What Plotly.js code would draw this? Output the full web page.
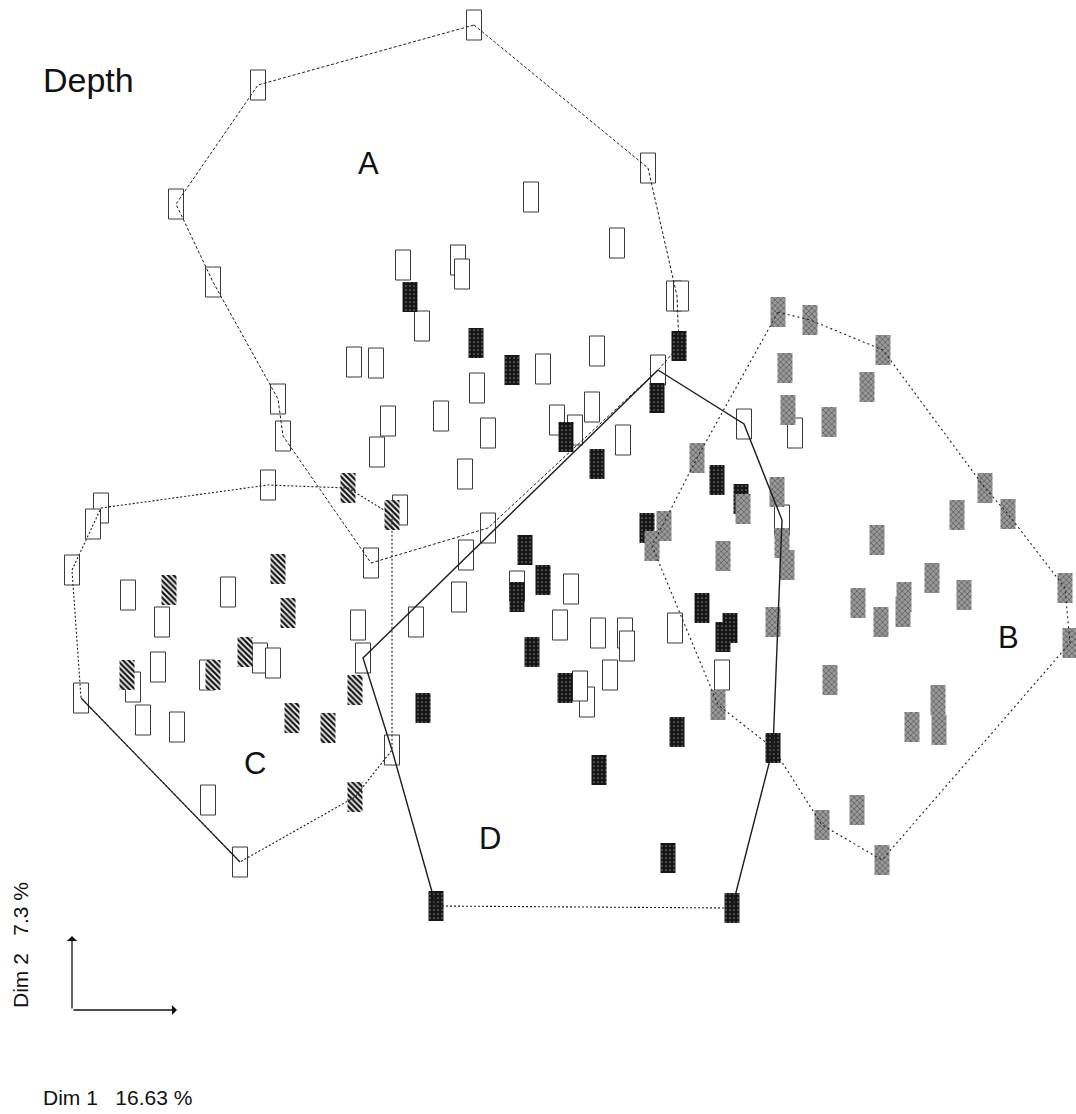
<!DOCTYPE html>
<html>
<head>
<meta charset="utf-8">
<script src="https://cdn.plot.ly/plotly-3.0.1.min.js"></script>
<style>
  html, body { margin: 0; padding: 0; background: #ffffff; }
  #chart { width: 1076px; height: 1114px; }
</style>
</head>
<body>
<div id="chart"></div>
<script>
// Ordination of samples on Dim 1 / Dim 2, coded by depth class.
// Coordinates are in plot units (Dim 1 to the right, Dim 2 downward on screen).

// Open (unfilled) samples
const openX = [474, 258, 176, 213, 648, 531, 617, 674, 681, 403, 458, 462, 422, 543, 597, 354, 376, 477, 388, 441,
               278, 283, 488, 377, 465, 557, 575, 592, 658, 623, 744, 795,
               268, 101, 93, 72, 128, 162, 228, 371, 358, 363, 133, 158, 207, 260, 273, 81, 143, 177, 392, 208, 240, 400,
               488, 466, 517, 571, 459, 416, 560, 598, 625, 627, 675, 610, 587, 580, 722, 782];
const openY = [25, 85, 204, 282, 168, 197, 243, 296, 296, 265, 260, 274, 326, 369, 351, 362, 363, 388, 421, 416,
               399, 436, 433, 452, 474, 420, 430, 407, 370, 440, 424, 433,
               485, 508, 524, 570, 595, 622, 592, 563, 625, 658, 687, 667, 675, 658, 663, 698, 720, 727, 750, 800, 862, 510,
               528, 555, 586, 589, 597, 622, 625, 633, 633, 646, 628, 675, 702, 686, 675, 520];

// Black (dense stipple) samples
const blackX = [410, 476, 512, 679, 657, 566, 597, 717, 741, 647, 525, 543, 517, 702, 723, 730, 532, 565, 423, 677, 773, 599, 668, 436, 732];
const blackY = [297, 343, 370, 346, 398, 437, 464, 480, 499, 528, 550, 580, 597, 608, 637, 628, 652, 688, 708, 732, 748, 770, 858, 906, 908];

// Hatched samples
const hatchX = [348, 392, 169, 278, 288, 355, 127, 213, 245, 292, 328, 355];
const hatchY = [488, 515, 590, 569, 613, 690, 675, 675, 652, 718, 728, 797];

// Grey (light stipple) samples
const greyX = [778, 810, 883, 785, 867, 788, 829, 697, 743, 664, 652, 777, 782, 787, 723, 985, 1008, 957, 877, 858,
               881, 904, 903, 932, 964, 1065, 1070, 830, 773, 718, 938, 939, 912, 857, 822, 882];
const greyY = [312, 320, 350, 368, 387, 410, 422, 458, 509, 526, 546, 492, 543, 565, 556, 488, 514, 515, 540, 603,
               622, 597, 612, 578, 595, 588, 643, 680, 622, 705, 700, 730, 727, 810, 825, 860];

// Group envelopes (closed outlines through the outermost samples)
const hullAX = [474, 648, 677, 679, 658, 488, 371, 283, 278, 213, 176, 258, 474];
const hullAY = [25, 168, 296, 346, 370, 528, 563, 436, 399, 282, 204, 85, 25];
const hullBX = [778, 810, 883, 985, 1008, 1065, 1070, 882, 822, 773, 718, 652, 697, 778];
const hullBY = [312, 320, 350, 488, 514, 588, 643, 860, 825, 748, 705, 546, 458, 312];
const hullCX = [101, 268, 348, 392, 392, 355, 240, 81, 72, 93, 101];
const hullCY = [508, 485, 488, 515, 750, 797, 862, 698, 570, 524, 508];
const hullDX = [658, 744, 782, 773, 732, 436, 392, 363, 658];
const hullDY = [370, 424, 520, 748, 908, 906, 750, 658, 370];

// Group letters
const groupNames = ['A', 'B', 'C', 'D'];
const groupX = [368, 1008, 255, 490];
const groupY = [163, 637, 763, 838];

// Axis captions
const dim1Caption = 'Dim 1   16.63 %';
const dim2Caption = 'Dim 2   7.3 %';
const chartTitle = 'Depth';

// Sample glyph size (plot units)
const GLYPH_W = 15;
const GLYPH_H = 30;

function glyphs(xs, ys, marker) {
  return {
    type: 'bar',
    x: xs,
    y: xs.map(() => GLYPH_H),
    base: ys.map(v => v - GLYPH_H / 2),
    width: GLYPH_W,
    marker: marker,
    hoverinfo: 'skip',
    showlegend: false
  };
}

function outline(xs, ys, dash, width) {
  return {
    type: 'scatter',
    mode: 'lines',
    x: xs,
    y: ys,
    line: { color: '#1e1e1e', width: width, dash: dash },
    hoverinfo: 'skip',
    showlegend: false
  };
}

const traces = [
  glyphs(openX, openY, { color: '#ffffff', line: { color: '#3a3a3a', width: 1 } }),
  glyphs(blackX, blackY, {
    color: '#161616', line: { width: 0 },
    pattern: { shape: '.', bgcolor: '#161616', fgcolor: '#7a7a7a', size: 4, solidity: 0.15 }
  }),
  glyphs(hatchX, hatchY, {
    color: '#ffffff', line: { width: 0 },
    pattern: { shape: '\\', bgcolor: '#ffffff', fgcolor: '#1a1a1a', size: 4, solidity: 0.6 }
  }),
  glyphs(greyX, greyY, {
    color: '#8a8a8a', line: { width: 0 },
    pattern: { shape: 'x', bgcolor: '#9a9a9a', fgcolor: '#5a5a5a', size: 4, solidity: 0.35 }
  }),
  outline(hullAX, hullAY, '3px,2px', 1),
  outline(hullBX, hullBY, '2px,3px', 1.1),
  outline(hullCX, hullCY, '2px,2px', 1.1),
  // lower-left edge of C is drawn solid
  outline(hullCX.slice(6, 8), hullCY.slice(6, 8), 'solid', 1.1),
  outline(hullDX.slice(0, 5), hullDY.slice(0, 5), 'solid', 1.4),
  outline(hullDX.slice(4, 6), hullDY.slice(4, 6), '2px,2px', 1.1),
  outline(hullDX.slice(5), hullDY.slice(5), 'solid', 1.4)
];

const letterFont = { family: 'Liberation Sans, Arial, sans-serif', size: 31, color: '#111111' };
const titleFont = { family: 'Liberation Sans, Arial, sans-serif', size: 34, color: '#111111' };
const captionFont = { family: 'Liberation Sans, Arial, sans-serif', size: 21, color: '#111111' };

const annotations = groupNames.map((t, i) => ({
  x: groupX[i], y: groupY[i], xref: 'x', yref: 'y',
  text: t, showarrow: false, font: letterFont
}));

annotations.push(
  { x: 88, y: 80, xref: 'x', yref: 'y', text: chartTitle, showarrow: false, font: titleFont },
  { x: 117, y: 1097, xref: 'x', yref: 'y', text: dim1Caption, showarrow: false, font: captionFont },
  { x: 20, y: 945, xref: 'x', yref: 'y', text: dim2Caption, textangle: -90, showarrow: false, font: captionFont },
  // direction arrows for the two dimensions
  { x: 72, y: 936, ax: 72, ay: 1010, xref: 'x', yref: 'y', axref: 'x', ayref: 'y', text: '',
    showarrow: true, arrowhead: 1, arrowsize: 1.3, arrowwidth: 1.3, arrowcolor: '#111111' },
  { x: 177, y: 1010, ax: 72, ay: 1010, xref: 'x', yref: 'y', axref: 'x', ayref: 'y', text: '',
    showarrow: true, arrowhead: 1, arrowsize: 1.3, arrowwidth: 1.3, arrowcolor: '#111111' }
);

const layout = {
  width: 1076,
  height: 1114,
  margin: { l: 0, r: 0, t: 0, b: 0, pad: 0 },
  paper_bgcolor: '#ffffff',
  plot_bgcolor: '#ffffff',
  barmode: 'overlay',
  showlegend: false,
  xaxis: { range: [0, 1076], visible: false, fixedrange: true },
  yaxis: { range: [1114, 0], visible: false, fixedrange: true },
  annotations: annotations
};

Plotly.newPlot('chart', traces, layout, { staticPlot: true, displayModeBar: false });
</script>
</body>
</html>
